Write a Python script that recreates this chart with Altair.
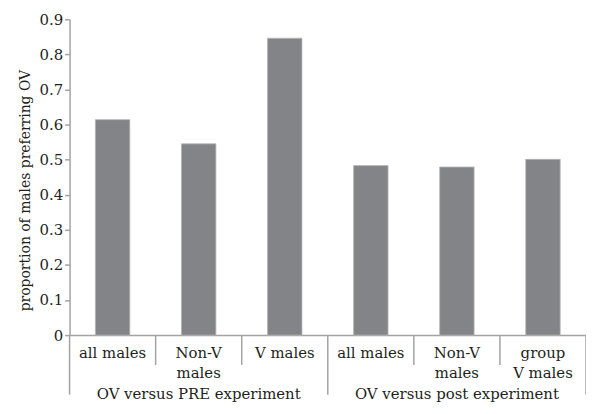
import altair as alt
import pandas as pd

# ---- data ----
categories = ["all males", "Non-V\nmales", "V males",
              "all males", "Non-V\nmales", "group\nV males"]
values = [0.614, 0.545, 0.846, 0.483, 0.479, 0.501]
groups = ["OV versus PRE experiment", "OV versus post experiment"]
y_ticks = [0, 0.1, 0.2, 0.3, 0.4, 0.5, 0.6, 0.7, 0.8, 0.9]
y_title = "proportion of males preferring OV"

FONT = "DejaVu Serif"
FS = 15
TXT = "#231f20"
AX = "#a3a3a3"
W, H = 520, 318

bars_df = pd.DataFrame({
    "idx": list(range(len(categories))),
    "label": categories,
    "value": values,
})
bars_df["x0"] = bars_df["idx"] + 0.3
bars_df["x1"] = bars_df["idx"] + 0.7
bars_df["xc"] = bars_df["idx"] + 0.5

n_per_group = 3
grp_df = pd.DataFrame({
    "group": groups,
    "xc": [g * n_per_group + n_per_group / 2 for g in range(len(groups))],
})

short_sep = pd.DataFrame({"x": [i for i in range(1, len(categories)) if i % n_per_group != 0]})
long_sep = pd.DataFrame({"x": [g * n_per_group for g in range(len(groups) + 1)]})

xscale = alt.Scale(domain=[0, len(categories)], nice=False, zero=False)
yscale = alt.Scale(domain=[0, 0.9], nice=False)

bars = alt.Chart(bars_df).mark_bar(
    color="#838488", stroke="#b4b4b4", strokeWidth=0.8
).encode(
    x=alt.X("x0:Q", scale=xscale,
            axis=alt.Axis(labels=False, ticks=False, title=None, grid=False,
                          domainColor=AX, domainWidth=1.5)),
    x2="x1:Q",
    y=alt.Y("value:Q", scale=yscale,
            axis=alt.Axis(values=y_ticks, format="~g", grid=False,
                          title=y_title, titleFont=FONT, titleFontSize=14,
                          titleFontWeight="normal", titleColor=TXT,
                          titleX=-37, titleY=172,
                          labelFont=FONT, labelFontSize=FS, labelColor=TXT,
                          labelPadding=2, tickSize=5, tickColor=AX, tickWidth=1.5,
                          domainColor=AX, domainWidth=1.5)),
    y2=alt.datum(0),
)

seps_short = alt.Chart(short_sep).mark_rule(color=AX, strokeWidth=1.5).encode(
    x=alt.X("x:Q", scale=xscale),
    y=alt.value(H),
    y2=alt.value(H + 30),
)

seps_long = alt.Chart(long_sep).mark_rule(color=AX, strokeWidth=1.5).encode(
    x=alt.X("x:Q", scale=xscale),
    y=alt.value(H),
    y2=alt.value(H + 60),
)

cat_text = alt.Chart(bars_df).mark_text(
    font=FONT, fontSize=FS, color=TXT, baseline="alphabetic",
    align="center", lineBreak="\n", lineHeight=20
).encode(
    x=alt.X("xc:Q", scale=xscale),
    y=alt.value(H + 23),
    text="label:N",
)

grp_text = alt.Chart(grp_df).mark_text(
    font=FONT, fontSize=FS, color=TXT, baseline="alphabetic", align="center"
).encode(
    x=alt.X("xc:Q", scale=xscale),
    y=alt.value(H + 64),
    text="group:N",
)

chart = alt.layer(bars, seps_short, seps_long, cat_text, grp_text).properties(
    width=W, height=H,
    autosize=alt.AutoSizeParams(type="none"),
    padding={"left": 62, "top": 10, "right": 0, "bottom": 68},
).configure_view(stroke=None)

chart.save("out.html", embed_options={"renderer": "svg", "actions": False})
